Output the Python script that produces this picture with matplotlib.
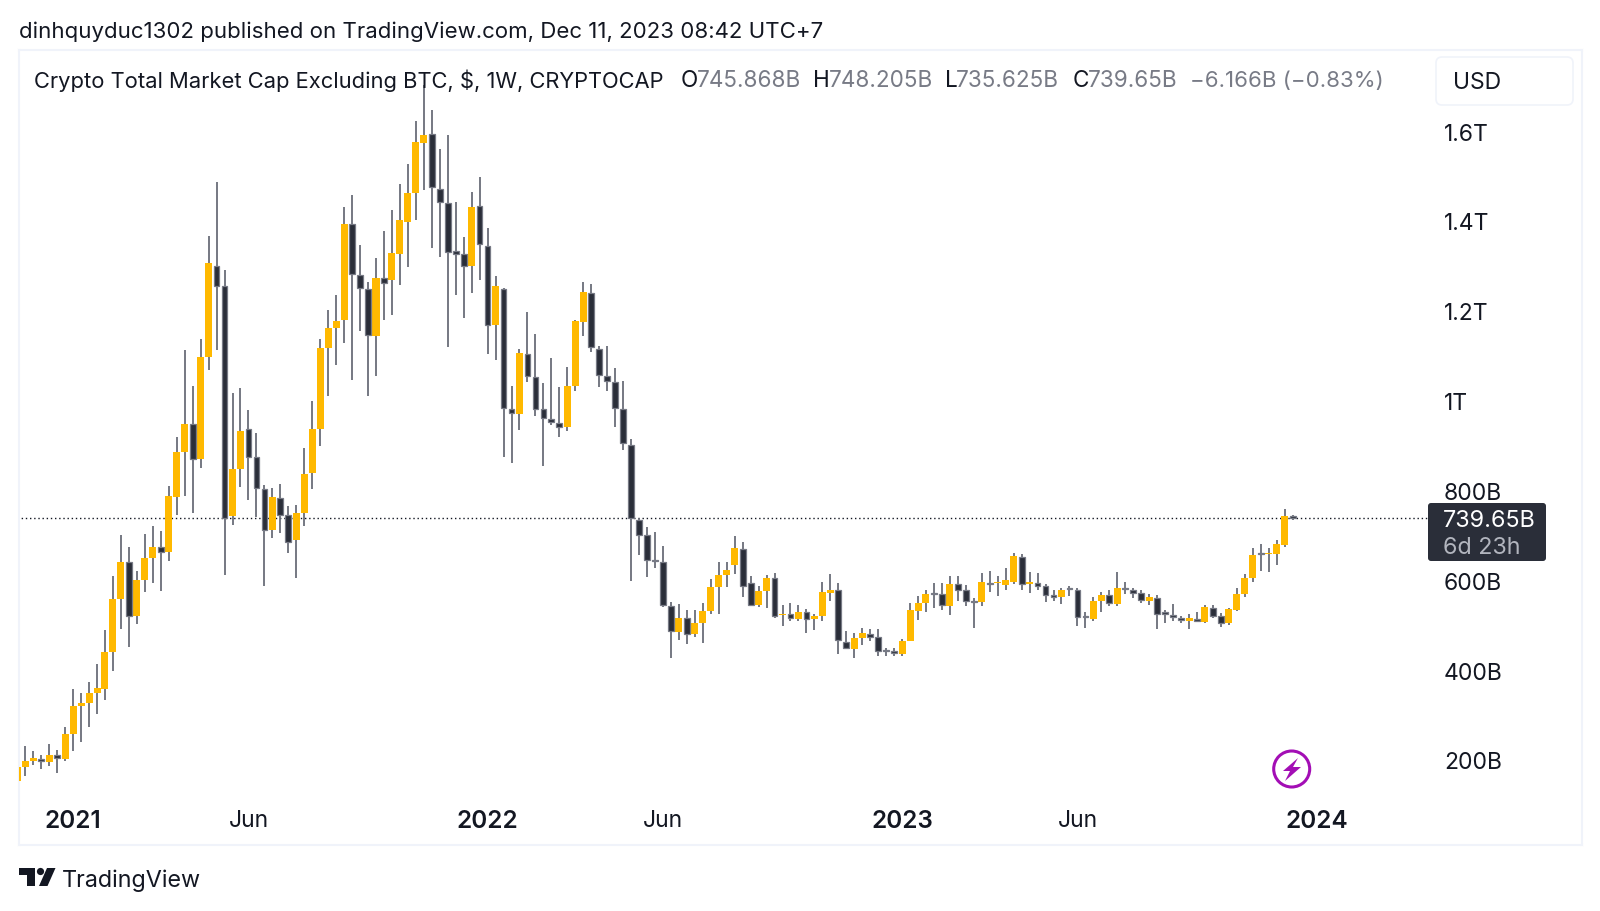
import matplotlib
matplotlib.use('Agg')
import numpy as np
import matplotlib.pyplot as plt
from matplotlib.patches import FancyBboxPatch, Circle, Polygon

plt.rcParams['font.family'] = ['Inter', 'DejaVu Sans']

# weekly candles, values in billions of USD
opens = [154, 185.4, 198.7, 204.8, 196.6, 213, 204.8, 259, 321.4, 329.5, 351, 360, 443, 560.6, 643.5, 522.8, 603.6, 651.7, 675.2, 664,
         787.7, 887.9, 951, 871.5, 1099.6, 1302, 1257, 745.8, 850, 938, 875.6, 805, 714, 784.6, 747.8, 691.5, 752.9, 840.8, 938, 1119,
         1164, 1181, 1395, 1281.7, 1251, 1146.2, 1274.9, 1270.6, 1328.6, 1401, 1465, 1576.6, 1595.4, 1473.5, 1442.8, 1336.3, 1328.6, 1303, 1435.1, 1347.4,
         1170.9, 1251, 984.3, 972.4, 1107, 1055, 983.4, 962.1, 951.9, 942.5, 1034.6, 1177.7, 1241.7, 1117.2, 1057.6, 1043.1, 982.6, 904.1, 736.7, 701.8,
         646.8, 643.1, 545, 487.9, 518.4, 482, 505.8, 533.2, 586.7, 613.4, 635.7, 672.8, 596.3, 546.6, 578.5, 606.7, 525, 526.6, 516.2, 531.8,
         515.4, 521.4, 574.8, 580, 464.2, 450, 472.4, 482.8, 475.3, 447.1, 444.9, 438.2, 467.2, 534, 552.5, 573.3, 571, 545, 593.4, 579.3,
         555.5, 554, 596.4, 594.9, 591.9, 599.3, 655, 594.1, 594.9, 588.2, 568.2, 563.7, 583.8, 580, 522.1, 516.2, 555.5, 568.2, 549.6, 583.8,
         580, 574.1, 557, 562.2, 531, 524.4, 517.7, 511.7, 516.2, 509.5, 541.4, 522.9, 505.8, 536.2, 571.9, 606.8, 663.2, 660.2, 660.2, 681,
         745.868]
closes = [185.4, 198.7, 205.8, 199.7, 214, 205.8, 259, 322.4, 329.5, 350, 361.3, 443, 560.6, 643.5, 522.8, 603.6, 651.7, 675.2, 666, 789.7,
          887.9, 951, 871.5, 1099.6, 1309.2, 1258, 739.65, 850, 935, 876.6, 807, 714, 787.7, 747.8, 687.5, 752.9, 839.8, 939, 1119, 1163,
          1178.6, 1395, 1283.4, 1251.9, 1147.9, 1275.8, 1264.7, 1330.3, 1403.6, 1465, 1577.5, 1594.5, 1476.9, 1445.4, 1333.7, 1329.4, 1303, 1434.3, 1349.9, 1170.9,
          1257, 985, 974.9, 1107.9, 1055.9, 983.4, 963, 954.4, 942.5, 1034.6, 1179.4, 1245.1, 1120.6, 1058.4, 1045.6, 986, 907.6, 739.65, 702.5, 647.6,
          643.9, 546.6, 489.4, 519.1, 482.8, 507.3, 534, 586.7, 614.2, 626, 674.3, 588.9, 547.3, 578.5, 606.7, 523.6, 527.3, 518.4, 532.5, 516.2,
          522.1, 575.6, 579.3, 469.4, 450.8, 473.9, 484.2, 476.8, 445.6, 445.6, 439, 467.2, 535.5, 552.5, 571.8, 571.8, 547.3, 594.1, 579.3, 556.3,
          553.3, 598.6, 594.1, 597.9, 602.3, 655.8, 594.1, 597.9, 589.7, 568.9, 563.7, 580.8, 582.3, 519.2, 520.6, 555.5, 568.9, 551, 583.8, 582.3,
          574.1, 557.8, 563.7, 528, 526.6, 519.9, 513.2, 517.7, 511, 542.2, 523.6, 506.5, 537, 571.9, 607.5, 658.7, 660.2, 663.2, 682.5, 745.6,
          739.65]
highs = [190, 233.4, 221, 213, 236.5, 225, 276.4, 359, 350, 374.5, 415.5, 491, 611.8, 703.8, 675.2, 622, 705.9, 722, 711, 813,
         921.6, 1114.9, 1035, 1138.4, 1368.5, 1489.2, 1293.9, 1018.8, 1030, 982, 930.8, 815.3, 808, 816.3, 767, 769, 897, 1002.4, 1138.4, 1202.9,
         1238, 1432.6, 1459, 1349, 1266.4, 1320, 1379.7, 1425.8, 1484.6, 1528.9, 1624.4, 1704.5, 1649.9, 1563, 1592.8, 1443.7, 1367, 1467.5, 1499.9, 1385.7,
         1280, 1253, 1034.6, 1118, 1199.9, 1149.6, 1041.4, 1097.6, 1032, 1077.2, 1182, 1266.4, 1262, 1124.9, 1124.9, 1073.8, 1044.8, 916.9, 739.7, 721.8,
         709.2, 678.8, 553.3, 549.6, 535.5, 535.5, 552.5, 606, 642.4, 642.4, 700.3, 686.9, 611.9, 590.4, 614.9, 618.6, 547.3, 552.5, 547.3, 537.7,
         527.3, 597.8, 617.1, 595.6, 490.2, 485.7, 495.4, 493.1, 493.1, 452.3, 452.3, 470.9, 552.5, 567.4, 579.3, 594.9, 597, 611.9, 612, 591.9,
         562.2, 617.9, 623.8, 612, 629, 662.4, 660.2, 620.1, 617.2, 594.1, 580.8, 584.5, 589, 583.8, 532.5, 565.9, 575.6, 580.8, 620.9, 597.1,
         585.2, 580, 571.1, 568.9, 535.5, 549.6, 523.6, 527.3, 531, 547.4, 546.6, 528.8, 540.7, 584.5, 616.4, 674.3, 682.5, 675, 692.1, 760.4,
         748.205]
lows = [150, 167, 190.5, 182, 189.5, 172, 198.7, 221, 241.6, 276.4, 304, 335.7, 399, 494.2, 454.3, 505.5, 576, 596.5, 578, 644.5,
        746.8, 790.8, 752.9, 851, 1069.9, 1114.9, 613.9, 724.3, 809, 781.5, 742.7, 588.3, 696.7, 707.9, 663, 607.7, 723, 806, 901, 1012.7,
        1081.4, 1130.9, 1047.3, 1157.3, 1012.4, 1055.9, 1182, 1192.2, 1258.7, 1298.8, 1403.6, 1471, 1343.1, 1322.6, 1122.4, 1236.6, 1186.3, 1242.5, 1270.6, 1106.2,
        1091.6, 877.7, 864.1, 937.4, 1043.1, 968, 857.3, 946.8, 921.2, 934.8, 1024.3, 1147, 1110.4, 1032.8, 1022.6, 943.4, 891.4, 599.9, 658.7, 610.4,
        628.3, 543.6, 428.6, 469.4, 461.2, 475.3, 463.4, 528, 528, 586, 616.4, 564.4, 545, 543.6, 541.4, 518.4, 499.8, 511.7, 512.4, 485,
        492.4, 511.7, 556.2, 438.2, 447.9, 430, 457.5, 466.4, 434.5, 432.3, 432.3, 434.5, 467.2, 513.2, 531, 541.4, 535.5, 524.3, 556.3, 545.1,
        495.4, 543.7, 577, 566.7, 581.5, 593.4, 581.5, 574.8, 579.3, 553.3, 557, 549.6, 566, 500.6, 494.7, 511.7, 531, 543.7, 545.1, 571.1,
        562.2, 551, 547.4, 493.2, 506.5, 511.7, 507.3, 493.2, 509.5, 506.5, 518.4, 498.4, 502.8, 534, 565.9, 599.3, 621.6, 620.1, 636.5, 675.8,
        735.625]

price_ticks = [200, 400, 600, 800, 1000, 1200, 1400, 1600]
price_labels = ['200B', '400B', '600B', '800B', '1T', '1.2T', '1.4T', '1.6T']
time_ticks = [7, 29, 59, 81, 111, 133, 163]
time_labels = ['2021', 'Jun', '2022', 'Jun', '2023', 'Jun', '2024']

YELLOW = '#ffb900'
DARK = '#2a2e39'
WICK = '#6a6d78'
BORDER = '#f0f3fa'
TEXT = '#131722'
GREY = '#787b86'

W, H = 1600, 911
fig = plt.figure(figsize=(16, 9.11), dpi=100)
ax = fig.add_axes([18.5/W, 1-845/H, (1582-18.5)/W, (845-50)/H])

o = np.array(opens)
c = np.array(closes)
x = np.arange(len(o))
up = c >= o

ax.vlines(x, lows, highs, color=WICK, lw=1.3, zorder=2)
ax.bar(x[up], (c-o)[up], bottom=o[up], width=0.88, color=YELLOW, lw=0, zorder=3)
ax.bar(x[~up], (c-o)[~up], bottom=o[~up], width=0.72, color=DARK, edgecolor='#777a85', lw=0.9, zorder=3)

ax.hlines(closes[-1], 0, 177, color=TEXT, lw=1, linestyles=(0, (1, 2)), zorder=1)

ax.set_xlim(0.15, 196.3)
ax.set_ylim(12.5, 1783)
ax.yaxis.tick_right()
ax.set_yticks(price_ticks, price_labels)
ax.set_xticks(time_ticks, time_labels)
ax.tick_params(axis='y', length=0, pad=-99.5, labelsize=16.5, labelcolor=TEXT)
ax.tick_params(axis='x', length=0, pad=-25, labelsize=16.5, labelcolor=TEXT)
for lab in ax.get_xticklabels():
    if lab.get_text() != 'Jun':
        lab.set_fontweight('semibold')
        lab.set_fontsize(17.5)
for s in ax.spines.values():
    s.set_color(BORDER)
    s.set_linewidth(1.5)

# page furniture, in pixel coordinates of the picture
top = fig.add_axes([0, 0, 1, 1], zorder=5)
top.set_xlim(0, W)
top.set_ylim(H, 0)
top.axis('off')
top.patch.set_alpha(0)

top.text(19, 31.5, 'dinhquyduc1302 published on TradingView.com, Dec 11, 2023 08:42 UTC+7',
         fontsize=16, color=TEXT, va='center')
top.text(34, 81, 'Crypto Total Market Cap Excluding BTC, $, 1W, CRYPTOCAP',
         fontsize=15.8, color=TEXT, va='center')
ohlc_x = [681, 813, 945, 1072.5]
ohlc_k = ['O', 'H', 'L', 'C']
ohlc_v = ['745.868B', '748.205B', '735.625B', '739.65B']
ohlc_off = [16, 16, 10.5, 15.5]
for px, k, v, off in zip(ohlc_x, ohlc_k, ohlc_v, ohlc_off):
    top.text(px, 81, k, fontsize=16.2, color=TEXT, va='center')
    top.text(px+off, 81, v, fontsize=16.2, color=GREY, va='center')
top.text(1190, 81, '\u22126.166B (\u22120.83%)', fontsize=16, color=GREY, va='center')

top.add_patch(FancyBboxPatch((1436, 57), 137, 48, boxstyle='round,pad=0,rounding_size=6',
                             fc='white', ec=BORDER, lw=1.2))
top.text(1453, 83, 'USD', fontsize=16.5, color=TEXT, va='center')

top.add_patch(FancyBboxPatch((1428, 503), 118, 58, boxstyle='round,pad=0,rounding_size=3',
                             fc=DARK, ec='none'))
top.text(1443, 521, '739.65B', fontsize=16.8, color='white', va='center')
top.text(1443, 548, '6d 23h', fontsize=16.8, color='#b2b5be', va='center')

# lightning icon
PURPLE = '#a30eb5'
top.add_patch(Circle((1291.7, 769), 18, fc='white', ec=PURPLE, lw=2.2))
top.add_patch(Polygon([(1298, 758), (1283, 771), (1290, 771), (1285, 781), (1301, 767), (1293, 767)],
                      closed=True, fc=PURPLE, ec='none'))

# TradingView logo
top.add_patch(Polygon([(18.7, 868), (34.5, 868), (34.5, 886), (26.5, 886), (26.5, 875), (18.7, 875)],
                      closed=True, fc=TEXT, ec='none'))
top.add_patch(Circle((40.5, 871.5), 3.6, fc=TEXT, ec='none'))
top.add_patch(Polygon([(47, 868), (55.5, 868), (47.5, 886), (39, 886)], closed=True, fc=TEXT, ec='none'))
top.text(62, 881, 'TradingView', fontsize=16.8, color=TEXT, va='center')

fig.savefig('out.png', dpi=100)
